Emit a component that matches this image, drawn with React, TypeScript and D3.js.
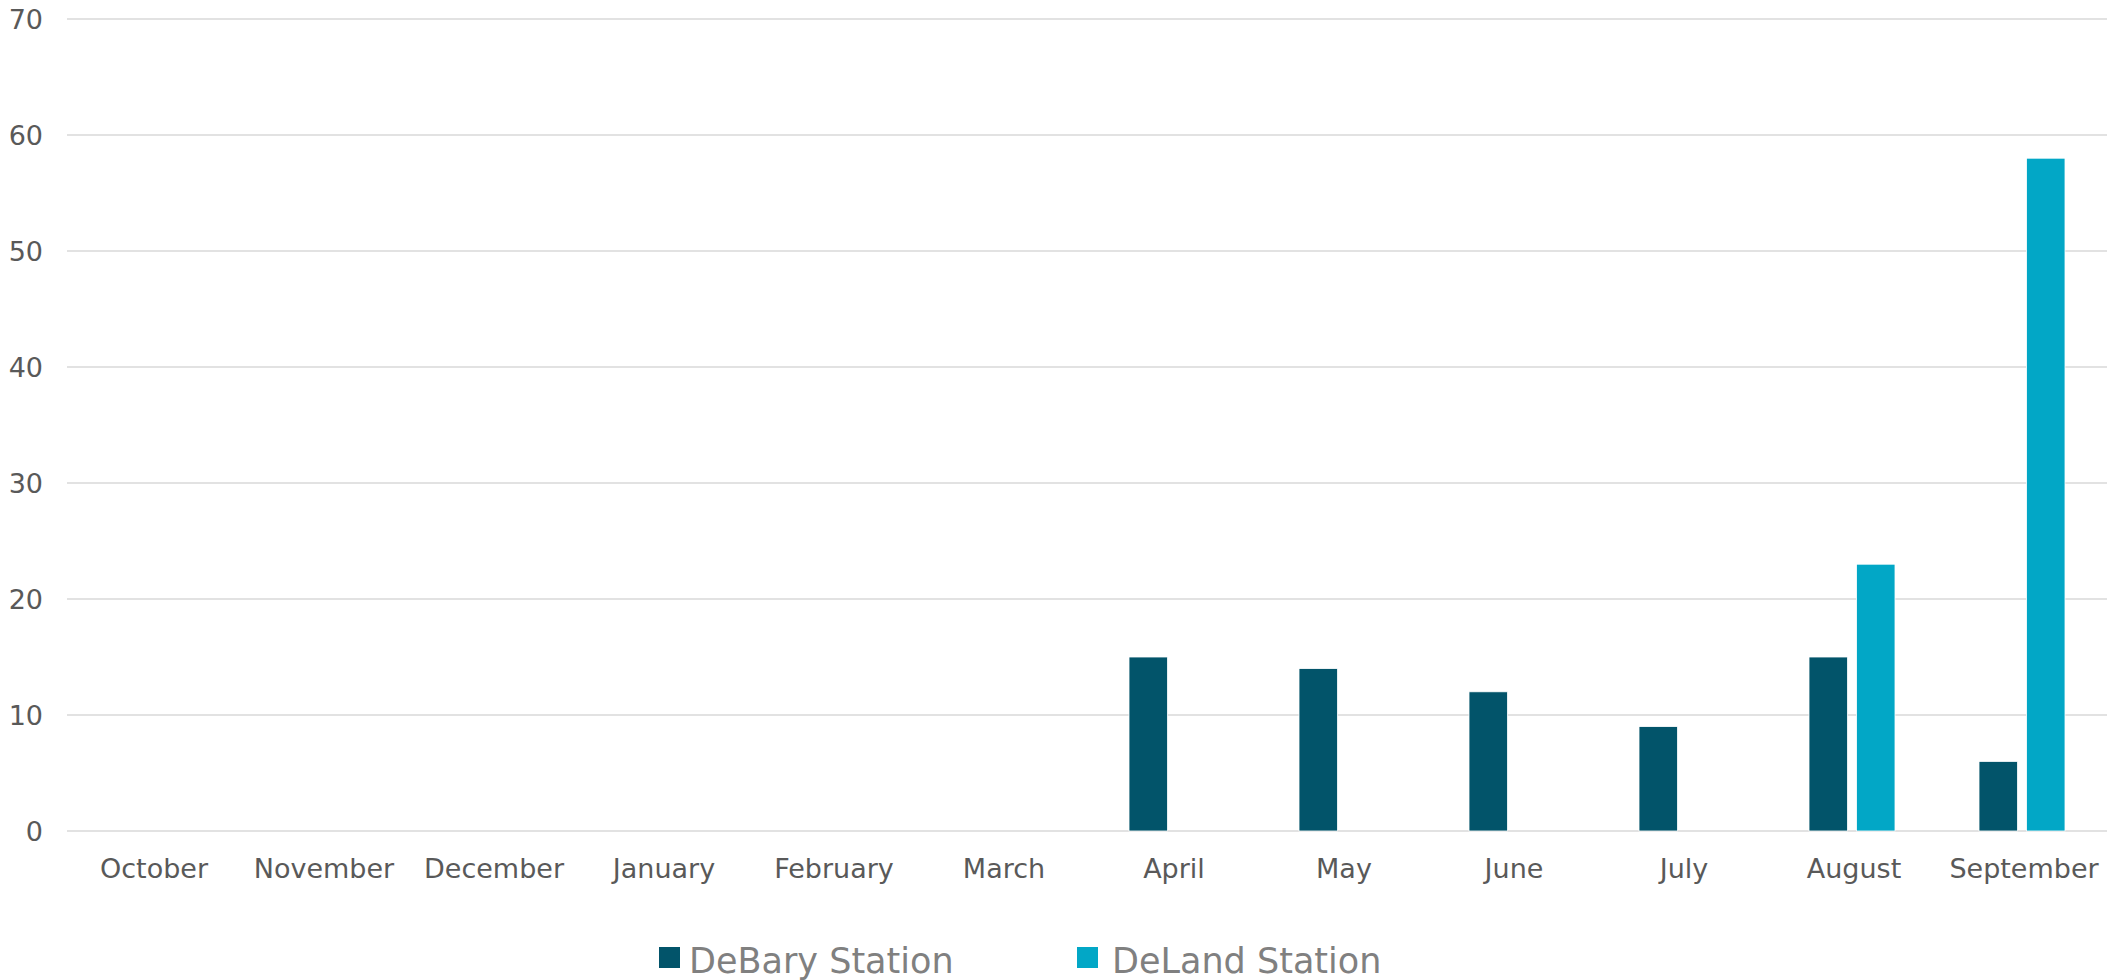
import React from "react";
import * as d3 from "d3";

const months = ["October", "November", "December", "January", "February", "March", "April", "May", "June", "July", "August", "September"];
const seriesNames = ["DeBary Station", "DeLand Station"];
const debary = [0, 0, 0, 0, 0, 0, 15, 14, 12, 9, 15, 6];
const deland = [0, 0, 0, 0, 0, 0, 0, 0, 0, 0, 23, 58];
const yTicks = [0, 10, 20, 30, 40, 50, 60, 70];
const colors = ["#02546A", "#02A7C6"];

const W = 2120;
const H = 980;
const FONT = "'DejaVu Sans', sans-serif";

export default function App() {
  const x = d3.scaleBand<string>().domain(months).range([67, 2107]).paddingInner(0).paddingOuter(0);
  const y = d3.scaleLinear().domain([0, 70]).range([831, 19]);
  const inner = d3.scaleBand<string>().domain(seriesNames).range([-43, 43]).paddingInner(0.19).paddingOuter(0);
  const seriesData = [debary, deland];

  const legendItems = [
    { name: seriesNames[0], color: colors[0], sx: 659, tx: 689 },
    { name: seriesNames[1], color: colors[1], sx: 1077, tx: 1112 },
  ];

  return (
    <div style={{ position: "fixed", left: 0, top: 0, width: W, height: H, background: "#fff" }}>
      <svg width={W} height={H} style={{ display: "block" }}>
        <rect x={0} y={0} width={W} height={H} fill="#ffffff" />
        {yTicks.map((t) => (
          <g key={t}>
            <line x1={67} x2={2107} y1={y(t)} y2={y(t)} stroke="#D9D9D9" strokeWidth={1.5} />
            <text x={43} y={y(t)} dy="0.36em" textAnchor="end" fontFamily={FONT} fontSize={27} fill="#595959">
              {t}
            </text>
          </g>
        ))}
        {seriesData.map((vals, si) =>
          vals.map((v, i) =>
            v > 0 ? (
              <rect
                key={`${si}-${i}`}
                x={(x(months[i]) as number) + x.bandwidth() / 2 + (inner(seriesNames[si]) as number)}
                y={y(v)}
                width={inner.bandwidth()}
                height={y(0) - y(v)}
                fill={colors[si]}
                stroke="#ffffff"
                strokeWidth={0.8}
              />
            ) : null
          )
        )}
        {months.map((m) => (
          <text
            key={m}
            x={(x(m) as number) + x.bandwidth() / 2 + 2}
            y={878}
            textAnchor="middle"
            fontFamily={FONT}
            fontSize={27}
            fill="#595959"
          >
            {m}
          </text>
        ))}
        {legendItems.map((it) => (
          <g key={it.name}>
            <rect x={it.sx} y={947} width={21} height={21} fill={it.color} />
            <text x={it.tx} y={973} fontFamily={FONT} fontSize={35} fill="#808080">
              {it.name}
            </text>
          </g>
        ))}
      </svg>
    </div>
  );
}
